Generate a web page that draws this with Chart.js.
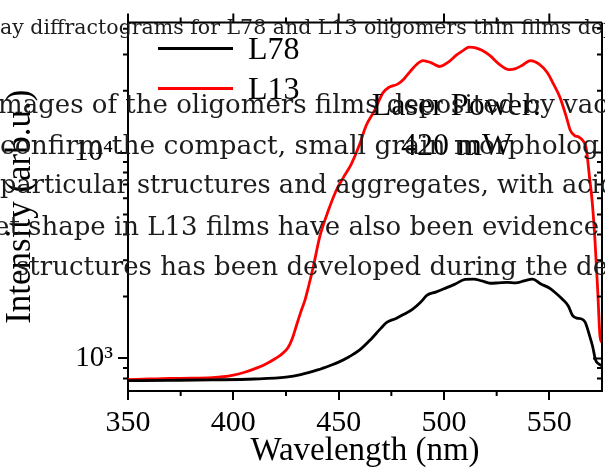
<!DOCTYPE html>
<html>
<head>
<meta charset="utf-8">
<script src="https://cdn.jsdelivr.net/npm/chart.js@4"></script>
<style>
  body { margin: 0; background: #fff; }
  #wrap { position: relative; width: 605px; height: 472px; overflow: hidden; }
  #chart { position: absolute; left: 0; top: 0; }
  .doc { position: absolute; white-space: nowrap; font-family: "DejaVu Serif", serif; color: #1c1c1c; line-height: 1; }
</style>
</head>
<body>
<div id="wrap">
  <canvas id="chart" width="605" height="472"></canvas>
  <div class="doc" style="left:0px; top:17px; font-size:20.5px;">ay diffractograms for L78 and L13 oligomers thin films dep</div>
  <div class="doc" style="left:-2px; top:91px; font-size:26px;">mages of the oligomers films deposited by vac</div>
  <div class="doc" style="left:0px; top:132px; font-size:26.5px;">confirm the compact, small grain morpholog</div>
  <div class="doc" style="left:0px; top:172px; font-size:25.6px;">particular structures and aggregates, with acid</div>
  <div class="doc" style="left:-6px; top:213px; font-size:26px;">et shape in L13 films have also been evidence</div>
  <div class="doc" style="left:16px; top:253px; font-size:26px;">structures has been developed during the de</div>
</div>
<script>
// L13 (red)
var wavelengthsL13 = [350, 360, 370, 380, 390, 395, 400, 405, 410, 415, 420, 423, 426, 428, 430, 432, 434, 436, 438, 441,
  445, 449, 452, 456, 460, 463, 467, 471, 474, 478, 481, 484, 487, 490, 494, 498, 502, 506, 509, 512,
  515, 518, 522, 526, 531, 534, 537, 541, 545, 549, 552, 555, 558, 560, 562, 564, 566, 567.5, 569, 570.4,
  571.7, 573, 574, 575];
var intensityL13 = [790, 795, 800, 802, 808, 815, 830, 855, 890, 935, 1000, 1050, 1130, 1250, 1450, 1680, 1920, 2300, 2800, 3900,
  5200, 6600, 7500, 8800, 11000, 13500, 16000, 19500, 20800, 21500, 22800, 24800, 26800, 28000, 27300, 26200, 27500, 29800, 31300, 32500,
  32300, 31400, 29500, 27000, 25300, 25600, 26500, 28000, 27000, 24500, 21500, 18600, 15000, 12800, 12100, 11900, 11400, 10500, 7700, 5700,
  3700, 2100, 1300, 1190];

// L78 (black)
var wavelengthsL78 = [350, 370, 390, 410, 425, 432, 440, 446, 450, 455, 460, 465, 470, 473, 477, 481, 485, 489, 492, 496,
  500, 505, 510, 514, 518, 522, 526, 530, 534, 538, 542, 546, 550, 553, 556, 559, 561, 563, 565, 567,
  569, 570.5, 572, 573.5, 575];
var intensityL78 = [780, 783, 787, 795, 812, 835, 880, 925, 960, 1020, 1100, 1230, 1400, 1500, 1560, 1640, 1730, 1880, 2030, 2100,
  2180, 2290, 2420, 2430, 2380, 2320, 2330, 2340, 2330, 2380, 2430, 2300, 2200, 2080, 1950, 1800, 1620, 1570, 1560, 1500,
  1300, 1150, 980, 940, 920];

// axis ticks
var xMajor = [350, 400, 450, 500, 550];
var xMinor = [375, 425, 475, 525];
var yMajor = [1000, 10000];
var yMajorLabels = ['10\u00B3', '10\u2074'];
var yMinor = [800, 900, 2000, 3000, 4000, 5000, 6000, 7000, 8000, 9000, 20000, 30000, 40000];

var serif = '"Liberation Serif", "Times New Roman", serif';

function toPoints(xs, ys) {
  var pts = [];
  for (var i = 0; i < xs.length; i++) pts.push({x: xs[i], y: ys[i]});
  return pts;
}

// extra ticks, box, legend and note
var frame = {
  id: 'frame',
  afterDraw: function(chart) {
    var ctx = chart.ctx;
    var a = chart.chartArea;
    var xs = chart.scales.x, ys = chart.scales.y;
    ctx.save();
    ctx.strokeStyle = '#000';
    ctx.lineWidth = 2;
    ctx.beginPath();
    ctx.moveTo(a.left, a.top); ctx.lineTo(a.right, a.top);
    ctx.moveTo(a.right, a.top); ctx.lineTo(a.right, a.bottom);
    // top ticks (outward), bottom minor ticks
    xMajor.forEach(function(v) {
      var px = xs.getPixelForValue(v);
      ctx.moveTo(px, a.top); ctx.lineTo(px, a.top - 9);
    });
    xMinor.forEach(function(v) {
      var px = xs.getPixelForValue(v);
      ctx.moveTo(px, a.top); ctx.lineTo(px, a.top - 5);
      ctx.moveTo(px, a.bottom); ctx.lineTo(px, a.bottom + 5);
    });
    // y minor ticks left, all ticks right (inward)
    yMinor.forEach(function(v) {
      var py = ys.getPixelForValue(v);
      ctx.moveTo(a.left, py); ctx.lineTo(a.left - 5, py);
      ctx.moveTo(a.right, py); ctx.lineTo(a.right - 5, py);
    });
    yMajor.forEach(function(v) {
      var py = ys.getPixelForValue(v);
      ctx.moveTo(a.right, py); ctx.lineTo(a.right - 9, py);
    });
    ctx.stroke();

    // legend
    ctx.font = '32px ' + serif;
    ctx.textBaseline = 'middle';
    ctx.fillStyle = '#000';
    chart.data.datasets.forEach(function(ds, i) {
      var y = a.top + 26 + i * 40;
      ctx.strokeStyle = ds.borderColor;
      ctx.lineWidth = 3;
      ctx.beginPath();
      ctx.moveTo(a.left + 30, y); ctx.lineTo(a.left + 105, y);
      ctx.stroke();
      ctx.fillText(ds.label, a.left + 120, y + 2);
    });

    // note
    var cx = xs.getPixelForValue(506);
    ctx.textAlign = 'center';
    ctx.textBaseline = 'alphabetic';
    ctx.fillText('Laser Power:', cx, 115);
    ctx.fillText('420 mW', cx, 155);
    ctx.restore();
  }
};

var ctx = document.getElementById('chart').getContext('2d');
var chart = new Chart(ctx, {
  type: 'line',
  data: {
    datasets: [{
      label: 'L78',
      data: toPoints(wavelengthsL78, intensityL78),
      borderColor: '#000000',
      borderWidth: 2.8,
      pointRadius: 0,
      cubicInterpolationMode: 'monotone'
    }, {
      label: 'L13',
      data: toPoints(wavelengthsL13, intensityL13),
      borderColor: '#ff0000',
      borderWidth: 2.8,
      pointRadius: 0,
      cubicInterpolationMode: 'monotone'
    }]
  },
  options: {
    responsive: false,
    animation: false,
    devicePixelRatio: 1,
    layout: { padding: { top: 17, right: 3, left: 0, bottom: 0 } },
    plugins: { legend: { display: false }, tooltip: { enabled: false } },
    scales: {
      x: {
        type: 'linear',
        min: 350,
        max: 575,
        afterFit: function(s) { s.height = 81; },
        afterBuildTicks: function(s) { s.ticks = xMajor.map(function(v) { return {value: v}; }); },
        ticks: { font: { family: serif, size: 30 }, color: '#000', padding: 5, maxRotation: 0 },
        grid: { drawOnChartArea: false, color: '#000', lineWidth: 2, tickLength: 9 },
        border: { color: '#000', width: 2 },
        title: { display: true, text: 'Wavelength (nm)', color: '#000', font: { family: serif, size: 33 }, padding: { top: 0, bottom: 1 } }
      },
      y: {
        type: 'logarithmic',
        min: 695,
        max: 42900,
        afterFit: function(s) { s.width = 128; },
        afterBuildTicks: function(s) { s.ticks = yMajor.map(function(v) { return {value: v, major: true}; }); },
        ticks: {
          font: { family: serif, size: 29 }, color: '#000', padding: 5,
          callback: function(v) { var k = yMajor.indexOf(v); return k >= 0 ? yMajorLabels[k] : null; }
        },
        grid: { drawOnChartArea: false, color: '#000', lineWidth: 2, tickLength: 10 },
        border: { color: '#000', width: 2 },
        title: { display: true, text: 'Intensity (arb.u.)', color: '#000', font: { family: serif, size: 35 }, padding: { top: 0, bottom: 1 } }
      }
    }
  },
  plugins: [frame]
});
</script>
</body>
</html>
